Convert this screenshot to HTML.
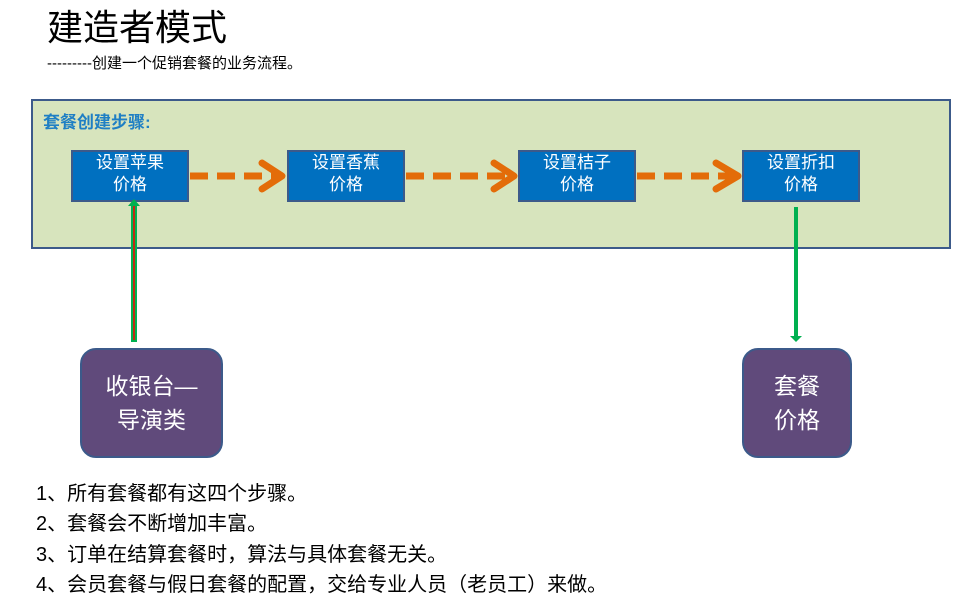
<!DOCTYPE html>
<html><head><meta charset="utf-8"><style>
body{margin:0;width:960px;height:605px;background:#fff;position:relative;overflow:hidden;font-family:"Liberation Sans","Noto Sans CJK SC",sans-serif}
.a{position:absolute}
.step{position:absolute;top:150px;width:114px;height:48px;background:#0070c0;border:2px solid #3c5a8a;color:#fff;font-size:17px;line-height:22px;text-align:center;box-sizing:content-box}
.pur{position:absolute;top:348px;height:106px;background:#604a7b;border:2px solid #3c5a8a;border-radius:16px;color:#fff;font-size:23px;line-height:34px;display:flex;align-items:center;justify-content:center;text-align:center}
.li{position:absolute;left:36px;font-size:20px;color:#000}
</style></head><body>
<div class="a" style="left:47px;top:6px;font-size:36px;line-height:44px">建造者模式</div>
<div class="a" style="left:47px;top:54px;font-size:15px;line-height:20px">---------创建一个促销套餐的业务流程。</div>
<div class="a" style="left:31px;top:99px;width:916px;height:146px;background:#d7e4bd;border:2px solid #3c5a8a"></div>
<div class="a" style="left:43px;top:108px;font-size:17px;font-weight:bold;color:#1f7fc4">套餐创建步骤:</div>
<div class="step" style="left:71px">设置苹果<br>价格</div>
<div class="step" style="left:287px">设置香蕉<br>价格</div>
<div class="step" style="left:518px">设置桔子<br>价格</div>
<div class="step" style="left:742px">设置折扣<br>价格</div>
<svg class="a" style="left:0;top:0" width="960" height="605">
<g stroke="#e36c09" stroke-width="7" fill="none">
<line x1="190" y1="176" x2="280" y2="176" stroke-dasharray="18,9"/>
<polyline points="262,163 282,176 262,189" stroke-linecap="round" stroke-linejoin="round"/>
<line x1="406" y1="176" x2="510" y2="176" stroke-dasharray="18,9"/>
<polyline points="494,163 514,176 494,189" stroke-linecap="round" stroke-linejoin="round"/>
<line x1="637" y1="176" x2="736" y2="176" stroke-dasharray="18,9"/>
<polyline points="716,163 738,176 716,189" stroke-linecap="round" stroke-linejoin="round"/>
</g>
<line x1="134" y1="205" x2="134" y2="342" stroke="#00b050" stroke-width="6"/>
<line x1="134" y1="205" x2="134" y2="340" stroke="#ff0000" stroke-width="1.5"/>
<polygon points="128,206 134,199 140,206" fill="#00b050"/>
<line x1="796" y1="207" x2="796" y2="336" stroke="#00b050" stroke-width="4"/>
<polygon points="790,336 796,342 802,336" fill="#00b050"/>
</svg>
<div class="pur" style="left:80px;width:139px">收银台—<br>导演类</div>
<div class="pur" style="left:742px;width:106px">套餐<br>价格</div>
<div class="li" style="top:477px">1、所有套餐都有这四个步骤。</div>
<div class="li" style="top:507px">2、套餐会不断增加丰富。</div>
<div class="li" style="top:538px">3、订单在结算套餐时，算法与具体套餐无关。</div>
<div class="li" style="top:568px">4、会员套餐与假日套餐的配置，交给专业人员（老员工）来做。</div>
</body></html>
